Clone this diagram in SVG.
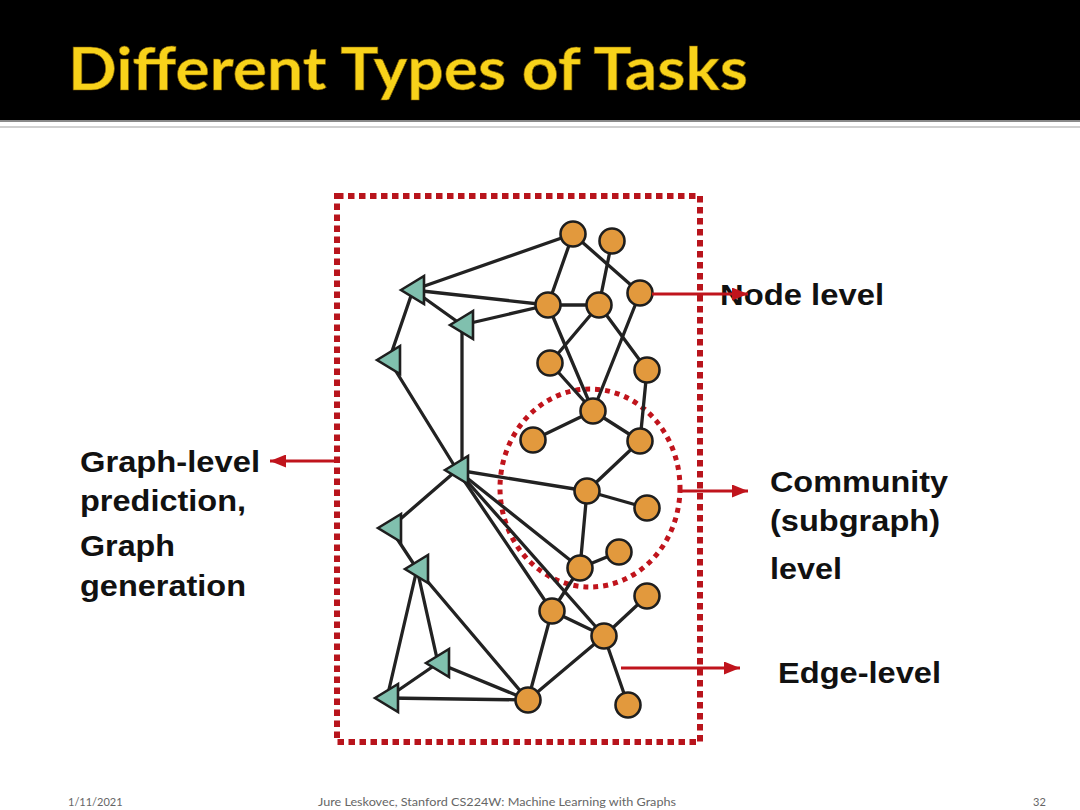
<svg xmlns="http://www.w3.org/2000/svg" width="1080" height="810" viewBox="0 0 1080 810">
  <style>
    .edge { stroke: #222; stroke-width: 3.3; fill: none; stroke-linecap: round; }
    .circ { fill: #E2993D; stroke: #1e1e1e; stroke-width: 2.6; }
    .tri { fill: #80C0AE; stroke: #1e1e1e; stroke-width: 2.6; stroke-linejoin: miter; }
    .red { stroke: #C0141C; stroke-width: 3; fill: none; }
    .lbl { font-family: "Liberation Sans", Arial, sans-serif; font-weight: bold; font-size: 30px; fill: #111; }
    .foot { font-family: Lato, "Open Sans", sans-serif; font-size: 11px; fill: #666; }
  </style>
  <defs>
    <marker id="ah" markerUnits="userSpaceOnUse" markerWidth="16" markerHeight="13" refX="16" refY="6.5" orient="auto">
      <path d="M0,0 L16,6.5 L0,13 Z" fill="#C0141C"/>
    </marker>
    <polygon id="triShape" points="-12,0 11,-14 11,14"/>
  </defs>
  <rect x="0" y="0" width="1080" height="810" fill="#fff"/>
  <!-- title band -->
  <rect x="0" y="0" width="1080" height="120" fill="#000"/>
  <rect x="0" y="120" width="1080" height="2" fill="#8a8a8a"/>
  <rect x="0" y="126" width="1080" height="2" fill="#d0d0d0"/>
  <text x="68" y="90" font-family="Lato, 'Open Sans', sans-serif" font-weight="bold" font-size="60" fill="#F8D21A" stroke="#7a5a00" stroke-width="0.6" textLength="680" lengthAdjust="spacingAndGlyphs">Different Types of Tasks</text>

  <!-- frames -->
  <rect x="337" y="196" width="363" height="546" fill="none" stroke="#B8141C" stroke-width="6" stroke-dasharray="6.5 4.5"/>
  <ellipse cx="590" cy="488" rx="90" ry="99" fill="none" stroke="#C0141C" stroke-width="5" stroke-dasharray="5 5"/>

  <g id="connectors">
    <line class="edge" x1="573" y1="234" x2="413" y2="290"/>
    <line class="edge" x1="573" y1="234" x2="548" y2="305"/>
    <line class="edge" x1="573" y1="234" x2="640" y2="293"/>
    <line class="edge" x1="612" y1="241" x2="599" y2="305"/>
    <line class="edge" x1="413" y1="290" x2="548" y2="305"/>
    <line class="edge" x1="548" y1="305" x2="462" y2="325"/>
    <line class="edge" x1="413" y1="290" x2="462" y2="325"/>
    <line class="edge" x1="548" y1="305" x2="599" y2="305"/>
    <line class="edge" x1="413" y1="290" x2="389" y2="360"/>
    <line class="edge" x1="462" y1="325" x2="462" y2="470"/>
    <line class="edge" x1="548" y1="305" x2="593" y2="411"/>
    <line class="edge" x1="599" y1="305" x2="550" y2="363"/>
    <line class="edge" x1="599" y1="305" x2="647" y2="370"/>
    <line class="edge" x1="640" y1="293" x2="593" y2="411"/>
    <line class="edge" x1="550" y1="363" x2="593" y2="411"/>
    <line class="edge" x1="647" y1="370" x2="640" y2="441"/>
    <line class="edge" x1="389" y1="360" x2="457" y2="470"/>
    <line class="edge" x1="593" y1="411" x2="533" y2="440"/>
    <line class="edge" x1="593" y1="411" x2="640" y2="441"/>
    <line class="edge" x1="640" y1="441" x2="587" y2="491"/>
    <line class="edge" x1="457" y1="470" x2="587" y2="491"/>
    <line class="edge" x1="587" y1="491" x2="647" y2="508"/>
    <line class="edge" x1="587" y1="491" x2="580" y2="568"/>
    <line class="edge" x1="580" y1="568" x2="619" y2="552"/>
    <line class="edge" x1="457" y1="470" x2="580" y2="568"/>
    <line class="edge" x1="457" y1="470" x2="552" y2="611"/>
    <line class="edge" x1="457" y1="470" x2="604" y2="636"/>
    <line class="edge" x1="457" y1="470" x2="390" y2="528"/>
    <line class="edge" x1="390" y1="528" x2="417" y2="569"/>
    <line class="edge" x1="417" y1="569" x2="387" y2="698"/>
    <line class="edge" x1="417" y1="569" x2="438" y2="663"/>
    <line class="edge" x1="417" y1="569" x2="528" y2="700"/>
    <line class="edge" x1="438" y1="663" x2="387" y2="698"/>
    <line class="edge" x1="438" y1="663" x2="528" y2="700"/>
    <line class="edge" x1="387" y1="698" x2="528" y2="700"/>
    <line class="edge" x1="552" y1="611" x2="528" y2="700"/>
    <line class="edge" x1="604" y1="636" x2="528" y2="700"/>
    <line class="edge" x1="552" y1="611" x2="604" y2="636"/>
    <line class="edge" x1="604" y1="636" x2="647" y2="596"/>
    <line class="edge" x1="604" y1="636" x2="628" y2="705"/>
    <line class="edge" x1="552" y1="611" x2="580" y2="568"/>
  </g>

  <g id="nodes">
    <g id="nA"><circle class="circ" cx="573" cy="234" r="12.5"/></g>
    <g id="nB"><circle class="circ" cx="612" cy="241" r="12.5"/></g>
    <g id="nC"><circle class="circ" cx="548" cy="305" r="12.5"/></g>
    <g id="nD"><circle class="circ" cx="599" cy="305" r="12.5"/></g>
    <g id="nE"><circle class="circ" cx="640" cy="293" r="12.5"/></g>
    <g id="nF"><circle class="circ" cx="550" cy="363" r="12.5"/></g>
    <g id="nG"><circle class="circ" cx="647" cy="370" r="12.5"/></g>
    <g id="nH"><circle class="circ" cx="593" cy="411" r="12.5"/></g>
    <g id="nI"><circle class="circ" cx="533" cy="440" r="12.5"/></g>
    <g id="nJ"><circle class="circ" cx="640" cy="441" r="12.5"/></g>
    <g id="nK"><circle class="circ" cx="587" cy="491" r="12.5"/></g>
    <g id="nL"><circle class="circ" cx="647" cy="508" r="12.5"/></g>
    <g id="nM"><circle class="circ" cx="619" cy="552" r="12.5"/></g>
    <g id="nN"><circle class="circ" cx="580" cy="568" r="12.5"/></g>
    <g id="nO"><circle class="circ" cx="552" cy="611" r="12.5"/></g>
    <g id="nP"><circle class="circ" cx="647" cy="596" r="12.5"/></g>
    <g id="nQ"><circle class="circ" cx="604" cy="636" r="12.5"/></g>
    <g id="nR"><circle class="circ" cx="528" cy="700" r="12.5"/></g>
    <g id="nS"><circle class="circ" cx="628" cy="705" r="12.5"/></g>
    <g id="t1"><use href="#triShape" class="tri" x="413" y="290"/></g>
    <g id="t2"><use href="#triShape" class="tri" x="462" y="325"/></g>
    <g id="t3"><use href="#triShape" class="tri" x="389" y="360"/></g>
    <g id="t4"><use href="#triShape" class="tri" x="457" y="470"/></g>
    <g id="t5"><use href="#triShape" class="tri" x="390" y="528"/></g>
    <g id="t6"><use href="#triShape" class="tri" x="417" y="569"/></g>
    <g id="t7"><use href="#triShape" class="tri" x="438" y="663"/></g>
    <g id="t8"><use href="#triShape" class="tri" x="387" y="698"/></g>
  </g>

  <g id="labels">
    <text class="lbl" x="720" y="305" textLength="164" lengthAdjust="spacingAndGlyphs">Node level</text>
    <text class="lbl" x="770" y="492" textLength="178" lengthAdjust="spacingAndGlyphs">Community</text>
    <text class="lbl" x="770" y="531" textLength="170" lengthAdjust="spacingAndGlyphs">(subgraph)</text>
    <text class="lbl" x="770" y="579" textLength="72" lengthAdjust="spacingAndGlyphs">level</text>
    <text class="lbl" x="778" y="683" textLength="163" lengthAdjust="spacingAndGlyphs">Edge-level</text>
    <text class="lbl" x="80" y="472" textLength="180" lengthAdjust="spacingAndGlyphs">Graph-level</text>
    <text class="lbl" x="80" y="511" textLength="166" lengthAdjust="spacingAndGlyphs">prediction,</text>
    <text class="lbl" x="80" y="556" textLength="95" lengthAdjust="spacingAndGlyphs">Graph</text>
    <text class="lbl" x="80" y="596" textLength="166" lengthAdjust="spacingAndGlyphs">generation</text>
  </g>

  <g id="label-arrows">
    <line class="red" x1="652" y1="294" x2="748" y2="294" marker-end="url(#ah)"/>
    <line class="red" x1="680" y1="491" x2="748" y2="491" marker-end="url(#ah)"/>
    <line class="red" x1="621" y1="668" x2="740" y2="668" marker-end="url(#ah)"/>
    <line class="red" x1="337" y1="461" x2="270" y2="461" marker-end="url(#ah)"/>
  </g>

  <g id="footer">
    <text class="foot" x="68" y="806">1/11/2021</text>
    <text class="foot" x="318" y="806" textLength="358" lengthAdjust="spacingAndGlyphs">Jure Leskovec, Stanford CS224W: Machine Learning with Graphs</text>
    <text class="foot" x="1033" y="806">32</text>
  </g>
</svg>
